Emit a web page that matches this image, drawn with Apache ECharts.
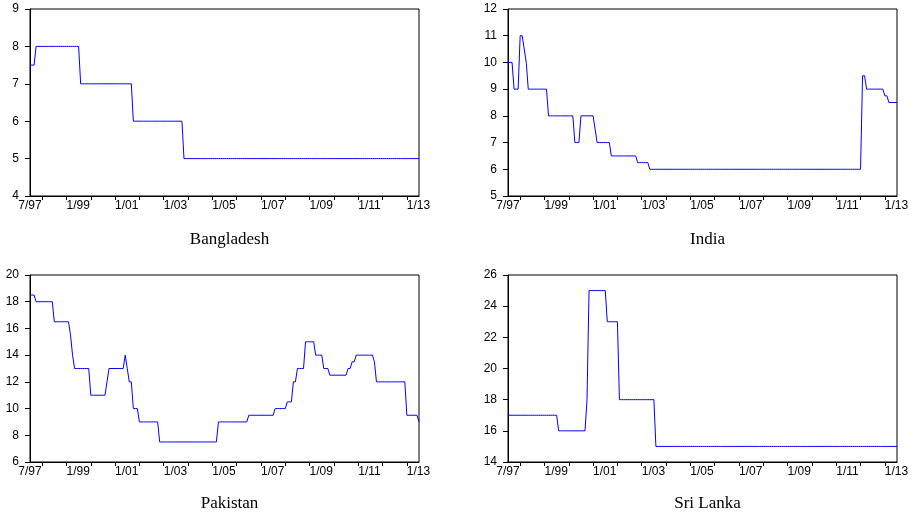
<!DOCTYPE html>
<html>
<head>
<meta charset="utf-8">
<script src="https://cdn.jsdelivr.net/npm/echarts@6/dist/echarts.min.js"></script>
<style>
html,body{margin:0;padding:0;background:#fff;}
#chart{width:915px;height:515px;}
</style>
</head>
<body>
<div id="chart"></div>
<script>
// Monthly observations, 7/1997 .. 7/2013 (one row per calendar year)
const months = [];
for (let i = 0; i < 193; i++) {
  const t = 1997 * 12 + 6 + i;
  const y = Math.floor(t / 12), mo = (t % 12) + 1;
  months.push(mo + '/' + String(y % 100).padStart(2, '0'));
}

const xTickLabels = ['7/97', '1/99', '1/01', '1/03', '1/05', '1/07', '1/09', '1/11', '1/13'];

const bangladesh = [
  7.5,7.5,7.5,8,8,8,
  8,8,8,8,8,8,8,8,8,8,8,8,
  8,8,8,8,8,8,8,7,7,7,7,7,
  7,7,7,7,7,7,7,7,7,7,7,7,
  7,7,7,7,7,7,7,7,7,6,6,6,
  6,6,6,6,6,6,6,6,6,6,6,6,
  6,6,6,6,6,6,6,6,6,6,5,5,
  5,5,5,5,5,5,5,5,5,5,5,5,
  5,5,5,5,5,5,5,5,5,5,5,5,
  5,5,5,5,5,5,5,5,5,5,5,5,
  5,5,5,5,5,5,5,5,5,5,5,5,
  5,5,5,5,5,5,5,5,5,5,5,5,
  5,5,5,5,5,5,5,5,5,5,5,5,
  5,5,5,5,5,5,5,5,5,5,5,5,
  5,5,5,5,5,5,5,5,5,5,5,5,
  5,5,5,5,5,5,5,5,5,5,5,5,
  5,5,5,5,5,5,5
];

const india = [
  10,10,10,9,9,9,
  11,11,10.5,10,9,9,9,9,9,9,9,9,
  9,9,8,8,8,8,8,8,8,8,8,8,
  8,8,8,7,7,7,8,8,8,8,8,8,
  8,7.5,7,7,7,7,7,7,7,6.5,6.5,6.5,
  6.5,6.5,6.5,6.5,6.5,6.5,6.5,6.5,6.5,6.5,6.25,6.25,
  6.25,6.25,6.25,6.25,6,6,6,6,6,6,6,6,
  6,6,6,6,6,6,6,6,6,6,6,6,
  6,6,6,6,6,6,6,6,6,6,6,6,
  6,6,6,6,6,6,6,6,6,6,6,6,
  6,6,6,6,6,6,6,6,6,6,6,6,
  6,6,6,6,6,6,6,6,6,6,6,6,
  6,6,6,6,6,6,6,6,6,6,6,6,
  6,6,6,6,6,6,6,6,6,6,6,6,
  6,6,6,6,6,6,6,6,6,6,6,6,
  6,9.5,9.5,9,9,9,9,9,9,9,9,9,
  8.75,8.75,8.5,8.5,8.5,8.5,8.5
];

const pakistan = [
  18.5,18.5,18.5,18,18,18,
  18,18,18,18,18,18,16.5,16.5,16.5,16.5,16.5,16.5,
  16.5,16.5,15.5,14,13,13,13,13,13,13,13,13,
  11,11,11,11,11,11,11,11,12,13,13,13,
  13,13,13,13,13,14,13,12,12,10,10,10,
  9,9,9,9,9,9,9,9,9,9,7.5,7.5,
  7.5,7.5,7.5,7.5,7.5,7.5,7.5,7.5,7.5,7.5,7.5,7.5,
  7.5,7.5,7.5,7.5,7.5,7.5,7.5,7.5,7.5,7.5,7.5,7.5,
  7.5,7.5,7.5,9,9,9,9,9,9,9,9,9,
  9,9,9,9,9,9,9.5,9.5,9.5,9.5,9.5,9.5,
  9.5,9.5,9.5,9.5,9.5,9.5,9.5,10,10,10,10,10,
  10,10.5,10.5,10.5,12,12,13,13,13,13,15,15,
  15,15,15,14,14,14,14,13,13,13,12.5,12.5,
  12.5,12.5,12.5,12.5,12.5,12.5,12.5,13,13,13.5,13.5,14,
  14,14,14,14,14,14,14,14,13.5,12,12,12,
  12,12,12,12,12,12,12,12,12,12,12,12,
  9.5,9.5,9.5,9.5,9.5,9.5,9
];

const sriLanka = [
  17,17,17,17,17,17,
  17,17,17,17,17,17,17,17,17,17,17,17,
  17,17,17,17,17,17,17,16,16,16,16,16,
  16,16,16,16,16,16,16,16,16,18,25,25,
  25,25,25,25,25,25,25,23,23,23,23,23,
  23,18,18,18,18,18,18,18,18,18,18,18,
  18,18,18,18,18,18,18,15,15,15,15,15,
  15,15,15,15,15,15,15,15,15,15,15,15,
  15,15,15,15,15,15,15,15,15,15,15,15,
  15,15,15,15,15,15,15,15,15,15,15,15,
  15,15,15,15,15,15,15,15,15,15,15,15,
  15,15,15,15,15,15,15,15,15,15,15,15,
  15,15,15,15,15,15,15,15,15,15,15,15,
  15,15,15,15,15,15,15,15,15,15,15,15,
  15,15,15,15,15,15,15,15,15,15,15,15,
  15,15,15,15,15,15,15,15,15,15,15,15,
  15,15,15,15,15,15,15
];

const panelTitles = ['Bangladesh', 'India', 'Pakistan', 'Sri Lanka'];
const panelSeries = [bangladesh, india, pakistan, sriLanka];
const yMin = [4, 5, 6, 14];
const yMax = [9, 12, 20, 26];
const yStep = [1, 1, 2, 2];

const grids = [
  { left: 30, top: 9, width: 389, height: 187 },
  { left: 508, top: 9, width: 389, height: 187 },
  { left: 30, top: 275, width: 389, height: 187 },
  { left: 508, top: 275, width: 389, height: 187 }
];
const titleTops = [226, 226, 490, 490];

const option = {
  animation: false,
  backgroundColor: '#ffffff',
  title: panelTitles.map((t, i) => ({
    text: t,
    left: grids[i].left + grids[i].width / 2,
    top: titleTops[i],
    textAlign: 'center',
    textStyle: { fontFamily: 'Liberation Serif', fontSize: 17, fontWeight: 'normal', color: '#000' }
  })),
  grid: grids.map(g => Object.assign({ show: true, borderColor: '#000', borderWidth: 1, backgroundColor: 'transparent' }, g)),
  xAxis: grids.map((g, i) => ({
    type: 'category',
    gridIndex: i,
    data: months,
    boundaryGap: false,
    axisLine: { lineStyle: { color: '#000', width: 1 } },
    axisTick: {
      show: true,
      inside: false,
      length: 4,
      interval: (idx, v) => v.indexOf('1/') === 0,
      lineStyle: { color: '#000' }
    },
    axisLabel: {
      interval: (idx, v) => xTickLabels.indexOf(v) >= 0,
      align: 'left',
      alignMinLabel: 'center',
      margin: 4,
      fontFamily: 'Liberation Sans',
      fontSize: 12,
      color: '#000'
    },
    splitLine: { show: false }
  })),
  yAxis: grids.map((g, i) => ({
    type: 'value',
    gridIndex: i,
    min: yMin[i],
    max: yMax[i],
    interval: yStep[i],
    axisLine: { show: true, lineStyle: { color: '#000', width: 1 } },
    axisTick: { show: true, length: 5, lineStyle: { color: '#000' } },
    axisLabel: { margin: 11, fontFamily: 'Liberation Sans', fontSize: 12, color: '#000' },
    splitLine: { show: false }
  })),
  series: panelSeries.map((d, i) => ({
    type: 'line',
    xAxisIndex: i,
    yAxisIndex: i,
    data: d,
    showSymbol: false,
    symbol: 'none',
    lineStyle: { color: '#0000ff', width: 1 },
    silent: true
  }))
};

const chart = echarts.init(document.getElementById('chart'), null, { renderer: 'canvas' });
chart.setOption(option);
</script>
</body>
</html>
